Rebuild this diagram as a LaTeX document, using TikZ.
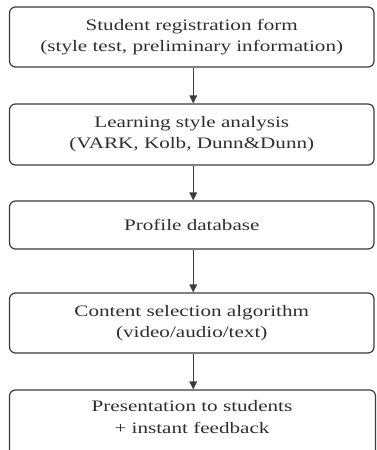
\documentclass[tikz,border=0pt]{standalone}
\usepackage{fontspec}
\setmainfont[FakeStretch=1.32]{Liberation Serif}
\usetikzlibrary{arrows.meta}
\definecolor{linegray}{HTML}{3C3C3C}
\definecolor{textgray}{HTML}{2E2E2E}
\tikzset{
  stepbox/.style={draw=linegray, line width=1.2pt, rounded corners=6pt,
    minimum width=364.5pt, inner sep=0pt, align=center, text=textgray,
    font=\fontsize{16}{21}\selectfont},
  flowarrow/.style={draw=linegray, line width=1.4pt,
    -{Triangle[width=7.5pt,length=8pt]}, shorten <=0.6pt},
  plaintext/.style={inner sep=0pt, align=center, text=textgray,
    font=\fontsize{16}{22}\selectfont}
}
\begin{document}
\begin{tikzpicture}[x=1pt,y=1pt]
\useasboundingbox (0,0) rectangle (376,-450);
\begin{scope}
\clip (0,0) rectangle (376,-450);
\node[stepbox, minimum height=60pt] (b1) at (191.75,-37)
  {Student registration form\\(style test, preliminary information)};
\node[stepbox, minimum height=61pt] (b2) at (191.75,-134.5)
  {Learning style analysis\\(VARK, Kolb, Dunn\&Dunn)};
\node[stepbox, minimum height=48pt] (b3) at (191.75,-225)
  {Profile database};
\node[stepbox, minimum height=60pt] (b4) at (191.75,-323)
  {Content selection algorithm\\(video/audio/text)};
\node[stepbox, minimum height=66pt, minimum width=366pt] (b5) at (192.5,-423) {};
\node[plaintext] (t5) at (192,-417.5)
  {Presentation to students\\+ instant feedback};
\end{scope}
\draw[flowarrow] ([xshift=1.5pt]b1.south) -- ([xshift=1.5pt]b2.north);
\draw[flowarrow] ([xshift=1.5pt]b2.south) -- ([xshift=1.5pt]b3.north);
\draw[flowarrow] ([xshift=1.5pt]b3.south) -- ([xshift=1.5pt]b4.north);
\draw[flowarrow] ([xshift=1.5pt]b4.south) -- ([xshift=0.75pt]b5.north);
\end{tikzpicture}
\end{document}
